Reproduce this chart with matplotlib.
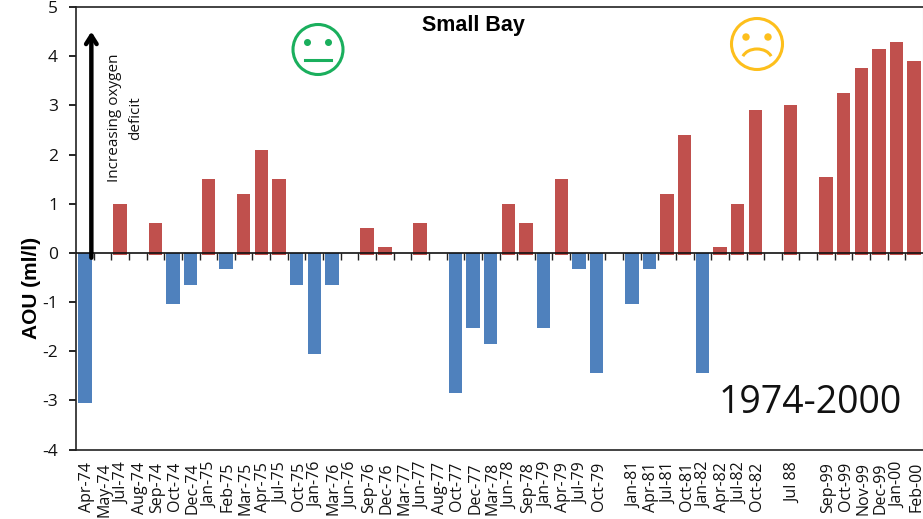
import numpy as np
import matplotlib
matplotlib.use("Agg")
import matplotlib.pyplot as plt
from matplotlib.patches import Circle, Arc
from matplotlib.transforms import ScaledTranslation

plt.rcParams['font.family'] = ['Open Sans', 'DejaVu Sans']

labels = ['Apr-74', 'May-74', 'Jul-74', 'Aug-74', 'Sep-74', 'Oct-74', 'Dec-74', 'Jan-75',
          'Feb-75', 'Mar-75', 'Apr-75', 'Jul-75', 'Oct-75', 'Jan-76', 'Mar-76', 'Jun-76',
          'Sep-76', 'Dec-76', 'Mar-77', 'Jun-77', 'Aug-77', 'Oct-77', 'Dec-77', 'Mar-78',
          'Jun-78', 'Sep-78', 'Jan-79', 'Apr-79', 'Jul-79', 'Oct-79', '', 'Jan-81',
          'Apr-81', 'Jul-81', 'Oct-81', 'Jan-82', 'Apr-82', 'Jul-82', 'Oct-82', '',
          'Jul 88', '', 'Sep-99', 'Oct-99', 'Nov-99', 'Dec-99', 'Jan-00', 'Feb-00']
aou = [-3.05, 0, 1.0, 0, 0.6, -1.05, -0.65, 1.5,
       -0.33, 1.2, 2.1, 1.5, -0.65, -2.05, -0.65, 0,
       0.5, 0.12, 0, 0.6, 0, -2.85, -1.52, -1.85,
       1.0, 0.6, -1.52, 1.5, -0.33, -2.45, 0, -1.05,
       -0.33, 1.2, 2.4, -2.45, 0.12, 1.0, 2.9, 0,
       3.0, 0, 1.55, 3.25, 3.75, 4.15, 4.28, 3.9]

W, H = 923, 519
fig = plt.figure(figsize=(W/100, H/100), dpi=100)
ax = fig.add_axes([76/W, 1-449.5/H, (923-76)/W, 442.5/H])

aou = np.array(aou)
x = np.arange(len(aou))
pos = aou > 0
red = '#C0504D'
blue = '#4F81BD'
ax.bar(x[~pos], aou[~pos], width=0.76, color=blue)
ax.bar(x[pos], aou[pos], width=0.76, color=red)
# little stubs under the zero line on the positive bars
ax.bar(x[pos], -0.05*np.ones(pos.sum()), width=0.76, color=red)

ax.set_xlim(-0.5, len(aou)-0.5)
ax.set_ylim(-4, 5)
ax.set_yticks(range(-4, 6))
ax.set_yticklabels([str(v) for v in range(-4, 6)], fontsize=12.5, color='#111111')
ax.tick_params(axis='y', length=5, width=1.2, pad=8)
ax.set_ylabel('AOU (ml/l)', fontsize=15, fontweight='bold', family='Liberation Sans')
ax.yaxis.set_label_coords(-0.041, 0.365)

ax.set_xticks(x)
ax.set_xticklabels(labels, rotation=90, fontsize=11.5, color='#111111')
ax.tick_params(axis='x', length=0, pad=9)
shift = ScaledTranslation(2/100, 0, fig.dpi_scale_trans)
for t in ax.get_xticklabels():
    t.set_transform(t.get_transform() + shift)
# category tick marks hang from the zero line
ax.vlines(x[:-1]+0.5, -0.14, 0, color='#222222', lw=1)
ax.axhline(0, color='#111111', lw=1.2, zorder=3)

for s in ['left', 'top', 'bottom']:
    ax.spines[s].set_linewidth(1.2)
    ax.spines[s].set_color('#222222')
ax.spines['right'].set_color('#BFBFBF')

ax.annotate('', xy=(0.37, 4.5), xytext=(0.37, -0.1),
            arrowprops=dict(arrowstyle='->,head_length=0.6,head_width=0.38', lw=3.2, color='black',
                            shrinkA=0, shrinkB=0), zorder=5)
ax.text(2.28, 2.74, 'Increasing oxygen\ndeficit', rotation=90, ha='center', va='center',
        fontsize=11, linespacing=1.6, color='#111111')
ax.text(473.5/W, 1-25/H, 'Small Bay', transform=fig.transFigure, ha='center', va='center',
        fontsize=15.5, fontweight='bold', family='Liberation Sans')
ax.text(810/W, 1-403/H, '1974-2000', transform=fig.transFigure, ha='center', va='center',
        fontsize=27, color='#111111')

# faces, drawn in pixel coordinates on an overlay
ov = fig.add_axes([0, 0, 1, 1])
ov.set_xlim(0, W)
ov.set_ylim(H, 0)
ov.axis('off')
green = '#1AAF5D'
ov.add_patch(Circle((318, 49.5), 25, fill=False, ec=green, lw=2.2))
ov.add_patch(Circle((307.5, 42.5), 2.8, color=green))
ov.add_patch(Circle((328.5, 42.5), 2.8, color=green))
ov.plot([305, 331], [60, 60], color=green, lw=2.2)
yellow = '#FDBF1C'
ov.add_patch(Circle((757, 44), 25.5, fill=False, ec=yellow, lw=2.2))
ov.add_patch(Circle((746, 37), 3, color=yellow))
ov.add_patch(Circle((768, 37), 3, color=yellow))
ov.add_patch(Arc((757, 60), 30, 22, theta1=195, theta2=345, ec=yellow, lw=2.2))

fig.savefig('out.png', dpi=100)
